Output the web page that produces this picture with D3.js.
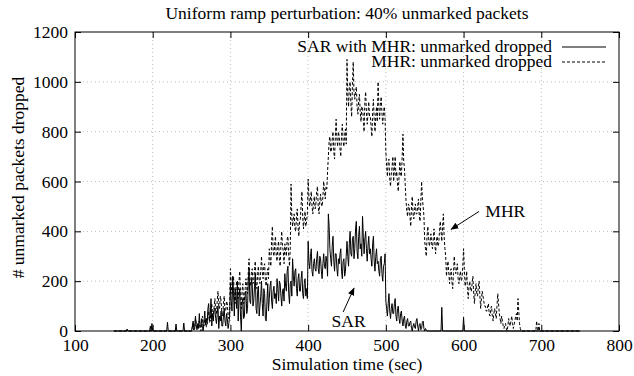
<!DOCTYPE html>
<html>
<head>
<meta charset="utf-8">
<script src="https://cdn.jsdelivr.net/npm/d3@7"></script>
<style>
  body { margin: 0; background: #fff; }
  text { font-family: "Liberation Serif", "Times New Roman", serif; fill: #000; }
</style>
</head>
<body>
<div id="chart-area"></div>
<script>
// one sample per second
var sampleStep = 1;
var sarStart = 250;
var mhrStart = 250;

var sarValues = [
	0, 20, 40, 5, 10, 60, 20, 5, 30, 10,               // 250
	70, 15, 20, 50, 10, 0, 40, 80, 25, 50,
	30, 90, 110, 40, 60, 130, 20, 70, 40, 90,
	90, 50, 30, 70, 100, 10, 60, 40, 80, 20,
	20, 60, 90, 40, 20, 70, 50, 10, 30, 60,
	190, 120, 80, 220, 150, 60, 170, 150, 90, 200,     // 300
	40, 130, 170, 60, 0, 110, 130, 50, 60, 150,
	160, 70, 90, 200, 250, 120, 110, 210, 190, 100,
	120, 180, 230, 90, 70, 160, 180, 60, 100, 140,
	200, 110, 60, 170, 150, 50, 40, 120, 190, 80,
	130, 180, 200, 120, 90, 160, 180, 130, 150, 110,   // 350
	210, 170, 120, 200, 190, 140, 100, 160, 170, 120,
	230, 180, 160, 240, 260, 150, 110, 190, 200, 140,
	290, 220, 180, 240, 250, 170, 140, 210, 230, 160,
	160, 210, 240, 150, 130, 190, 210, 140, 170, 130,
	360, 280, 250, 300, 330, 240, 220, 270, 290, 250,  // 400
	240, 290, 320, 250, 230, 300, 290, 240, 210, 270,
	310, 260, 250, 300, 280, 220, 470, 420, 330, 290,
	260, 340, 380, 280, 240, 310, 310, 250, 220, 290,
	270, 310, 330, 240, 210, 280, 290, 220, 240, 300,
	360, 300, 260, 350, 400, 310, 300, 370, 380, 290,  // 450
	330, 410, 440, 320, 290, 380, 420, 330, 350, 300,
	460, 380, 310, 370, 400, 330, 280, 340, 380, 310,
	330, 290, 260, 350, 380, 280, 240, 300, 330, 270,
	280, 240, 220, 290, 300, 230, 200, 260, 270, 310,
	120, 90, 60, 110, 150, 80, 50, 90, 110, 70,        // 500
	70, 110, 130, 60, 40, 90, 100, 50, 30, 70,
	80, 40, 20, 50, 60, 20, 10, 40, 50, 20,
	20, 35, 40, 10, 0, 20, 30, 15, 10, 40,
	50, 20, 0, 25, 30, 5, 10, 35, 40, 10,
	0, 10, 5, 0, 0, 0, 0, 0, 0, 0,                     // 550
	0
];

var mhrValues = [
	0, 15, 30, 5, 10, 50, 30, 20, 10, 35,              // 250
	40, 10, 0, 30, 60, 25, 20, 45, 50, 15,
	30, 60, 80, 35, 40, 75, 110, 60, 60, 95,
	130, 85, 70, 120, 160, 100, 90, 140, 120, 70,
	60, 110, 140, 80, 80, 120, 110, 60, 50, 90,
	250, 190, 150, 210, 220, 140, 110, 170, 200, 150,  // 300
	130, 200, 240, 150, 90, 160, 190, 110, 120, 170,
	210, 170, 150, 240, 290, 200, 180, 230, 250, 190,
	200, 250, 280, 190, 170, 230, 260, 200, 190, 240,
	300, 240, 210, 260, 270, 200, 180, 230, 250, 210,
	330, 290, 260, 360, 420, 320, 300, 350, 380, 300,  // 350
	280, 340, 360, 290, 260, 350, 400, 340, 320, 270,
	350, 320, 300, 370, 380, 300, 260, 330, 590, 460,
	420, 450, 470, 410, 400, 460, 490, 420, 380, 440,
	450, 510, 560, 460, 410, 450, 480, 420, 440, 470,
	610, 540, 500, 530, 560, 500, 470, 520, 540, 490,  // 400
	510, 560, 580, 500, 470, 520, 550, 510, 500, 540,
	600, 560, 530, 580, 570, 640, 700, 760, 780, 720,
	720, 770, 800, 720, 690, 780, 850, 770, 740, 800,
	780, 730, 700, 790, 830, 760, 740, 790, 810, 750,
	1090, 950, 900, 980, 1000, 910, 860, 990, 1080, 960, // 450
	930, 960, 980, 900, 870, 920, 950, 880, 840, 900,
	900, 850, 800, 920, 960, 880, 830, 870, 920, 860,
	860, 820, 780, 880, 930, 850, 800, 860, 900, 840,
	1000, 900, 850, 910, 940, 870, 830, 880, 900, 850,
	720, 660, 620, 680, 690, 610, 580, 630, 660, 700,  // 500
	600, 650, 700, 620, 640, 590, 560, 620, 680, 630,
	620, 700, 790, 680, 650, 580, 520, 480, 460, 510,
	500, 460, 420, 500, 540, 470, 450, 490, 510, 470,
	470, 500, 530, 460, 440, 520, 600, 530, 500, 460,
	360, 330, 300, 380, 420, 370, 340, 360, 390, 350,  // 550
	330, 370, 410, 350, 310, 360, 380, 340, 350, 400,
	440, 400, 360, 420, 470, 380, 330, 300, 220, 260,
	280, 230, 190, 240, 250, 200, 170, 230, 300, 250,
	230, 250, 270, 210, 190, 220, 240, 200, 210, 260,
	330, 250, 180, 200, 240, 170, 130, 180, 200, 160,  // 600
	160, 190, 220, 150, 110, 160, 190, 150, 140, 180,
	200, 140, 90, 130, 160, 140, 120, 100, 100, 80,
	80, 100, 110, 70, 60, 90, 100, 60, 40, 70,
	90, 70, 50, 100, 150, 110, 70, 50, 30, 60,
	40, 20, 10, 25, 30, 10, 0, 20, 50, 30,             // 650
	20, 40, 60, 30, 10, 25, 40, 60, 70, 40,
	130, 80, 30, 10, 0, 0, 0, 0, 0, 0,
	0, 0, 0, 0, 0, 0, 0, 0, 0, 0,
	0, 0, 0, 0, 40, 10, 0, 30, 0, 0,
	0
];

// isolated small spikes outside the main bursts [time, value]
var sarHead = [[150, 0], [166, 0], [167, 8], [168, 0], [196, 0], [197, 20], [198, 0], [199, 30], [200, 0],
	[218, 0], [219, 35], [220, 0], [229, 0], [230, 28], [231, 0], [239, 0], [240, 32], [241, 0], [249, 0]];
var sarTail = [[571, 0], [572, 95], [573, 0], [599, 0], [600, 55], [601, 0], [750, 0]];
var mhrHead = [[150, 0], [249, 0]];
var mhrTail = [[750, 0]];

var xTicks = [100, 200, 300, 400, 500, 600, 700, 800];
var yTicks = [0, 200, 400, 600, 800, 1000, 1200];

var titleText = "Uniform ramp perturbation: 40% unmarked packets";
var xLabel = "Simulation time (sec)";
var yLabel = "# unmarked packets dropped";
var legendNames = ["SAR with MHR: unmarked dropped", "MHR: unmarked dropped"];

// annotations: label, text position, arrow from, arrow to (data units)
var notes = [
	{ text: "SAR", at: [452, 16], from: [445, 76], to: [459, 172], anchor: "middle" },
	{ text: "MHR", at: [628, 458], from: [620, 480], to: [584, 408], anchor: "start" }
];

function series(start, values) {
	return values.map(function(v, i) { return [start + i * sampleStep, v]; });
}

var sarData = sarHead.concat(series(sarStart, sarValues), sarTail);
var mhrData = mhrHead.concat(series(mhrStart, mhrValues), mhrTail);

var widthinput = 634;
var heightinput = 376;
var fontSize = "17.5px";

var margin = { top: 32, right: 15, bottom: 45, left: 75 };

var width = widthinput - margin.left - margin.right,
	height = heightinput - margin.top - margin.bottom;

var svg = d3.select("#chart-area")
	.append("svg")
		.attr("width", widthinput)
		.attr("height", heightinput);

var g = svg.append("g")
	.attr("transform", "translate(" + margin.left + ", " + margin.top + ")");

var x = d3.scaleLinear().domain([100, 800]).range([0, width]);
var y = d3.scaleLinear().domain([0, 1200]).range([height, 0]);

// dotted grid
g.append("g")
	.selectAll("line")
	.data(yTicks.slice(1, -1))
	.enter().append("line")
		.attr("x1", 0).attr("x2", width)
		.attr("y1", function(d) { return y(d); })
		.attr("y2", function(d) { return y(d); })
		.attr("stroke", "#bbb")
		.attr("stroke-width", 1)
		.attr("stroke-dasharray", "1,3");

g.append("g")
	.selectAll("line")
	.data(xTicks.slice(1, -1))
	.enter().append("line")
		.attr("y1", 0).attr("y2", height)
		.attr("x1", function(d) { return x(d); })
		.attr("x2", function(d) { return x(d); })
		.attr("stroke", "#bbb")
		.attr("stroke-width", 1)
		.attr("stroke-dasharray", "1,3");

// axes with inward ticks on all four sides
var tickLen = 6;
var xAxis = g.append("g")
	.attr("transform", "translate(0, " + height + ")")
	.call(d3.axisBottom(x).tickValues(xTicks).tickSize(-tickLen).tickPadding(8).tickFormat(d3.format("d")));
var yAxis = g.append("g")
	.call(d3.axisLeft(y).tickValues(yTicks).tickSize(-tickLen).tickPadding(7).tickFormat(d3.format("d")));
var xTop = g.append("g")
	.call(d3.axisTop(x).tickValues(xTicks).tickSize(-tickLen).tickFormat(""));
var yRight = g.append("g")
	.attr("transform", "translate(" + width + ", 0)")
	.call(d3.axisRight(y).tickValues(yTicks).tickSize(-tickLen).tickFormat(""));

[xAxis, yAxis, xTop, yRight].forEach(function(a) {
	a.select(".domain").remove();
	a.attr("font-family", null);
	a.selectAll("line").attr("stroke", "#000");
	a.selectAll("text").attr("font-size", fontSize);
});

g.append("rect")
	.attr("width", width)
	.attr("height", height)
	.attr("fill", "none")
	.attr("stroke", "#000")
	.attr("stroke-width", 1);

var line = d3.line()
	.x(function(d) { return x(d[0]); })
	.y(function(d) { return y(d[1]); });

g.append("path")
	.attr("fill", "none")
	.attr("stroke", "#000")
	.attr("stroke-width", 1)
	.attr("stroke-dasharray", "3,2")
	.attr("d", line(mhrData));

g.append("path")
	.attr("fill", "none")
	.attr("stroke", "#000")
	.attr("stroke-width", 1)
	.attr("d", line(sarData));

// legend
var legend = g.append("g").attr("transform", "translate(" + (width - 67) + ", 0)");
legendNames.forEach(function(name, i) {
	var ly = 15 + i * 15;
	legend.append("text")
		.attr("x", 0)
		.attr("y", ly)
		.attr("dy", "0.3em")
		.attr("text-anchor", "end")
		.attr("font-size", fontSize)
		.text(name);
	legend.append("line")
		.attr("x1", 10).attr("x2", 54)
		.attr("y1", ly).attr("y2", ly)
		.attr("stroke", "#000")
		.attr("stroke-width", 1.1)
		.attr("stroke-dasharray", i == 1 ? "3,2" : null);
});

// arrows
svg.append("defs").append("marker")
	.attr("id", "head")
	.attr("viewBox", "0 0 10 10")
	.attr("refX", 9).attr("refY", 5)
	.attr("markerWidth", 8).attr("markerHeight", 8)
	.attr("orient", "auto")
	.append("path")
		.attr("d", "M0,1 L10,5 L0,9 z")
		.attr("fill", "#000");

notes.forEach(function(n) {
	g.append("text")
		.attr("x", x(n.at[0]))
		.attr("y", y(n.at[1]))
		.attr("text-anchor", n.anchor)
		.attr("font-size", fontSize)
		.text(n.text);
	g.append("line")
		.attr("x1", x(n.from[0])).attr("y1", y(n.from[1]))
		.attr("x2", x(n.to[0])).attr("y2", y(n.to[1]))
		.attr("stroke", "#000")
		.attr("stroke-width", 1)
		.attr("marker-end", "url(#head)");
});

// titles
svg.append("text")
	.attr("x", margin.left + width / 2)
	.attr("y", 19)
	.attr("text-anchor", "middle")
	.attr("font-size", fontSize)
	.text(titleText);

svg.append("text")
	.attr("x", margin.left + width / 2)
	.attr("y", 370)
	.attr("text-anchor", "middle")
	.attr("font-size", fontSize)
	.text(xLabel);

svg.append("text")
	.attr("transform", "translate(24, " + (margin.top + height / 2 - 4) + ") rotate(-90)")
	.attr("text-anchor", "middle")
	.attr("font-size", fontSize)
	.text(yLabel);
</script>
</body>
</html>
